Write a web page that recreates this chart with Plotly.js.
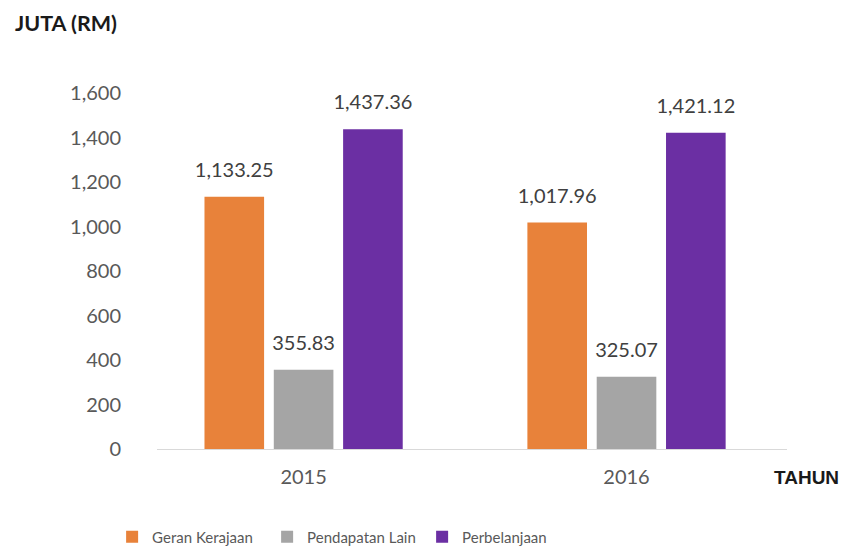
<!DOCTYPE html>
<html>
<head>
<meta charset="utf-8">
<script src="https://cdn.plot.ly/plotly-3.0.1.min.js"></script>
<style>html,body{margin:0;padding:0;background:#fff;}#chart{width:843px;height:549px;}</style>
</head>
<body>
<div id="chart"></div>
<script>
var years = ['2015', '2016'];
var seriesNames = ['Geran Kerajaan', 'Pendapatan Lain', 'Perbelanjaan'];
var geranKerajaan = [1133.25, 1017.96];
var pendapatanLain = [355.83, 325.07];
var perbelanjaan = [1437.36, 1421.12];
var yTicks = [0, 200, 400, 600, 800, 1000, 1200, 1400, 1600];
var colors = ['#E8823A', '#A5A5A5', '#6B2FA3'];

var values = [geranKerajaan, pendapatanLain, perbelanjaan];
function fmt(n) { return n.toLocaleString('en-US', {minimumFractionDigits: 2, maximumFractionDigits: 2}); }

var traces = values.map(function (v, i) {
  return {
    type: 'bar',
    name: seriesNames[i],
    x: years,
    y: v,
    marker: {color: colors[i]},
    hoverinfo: 'skip'
  };
});
var labelTraces = values.map(function (v, i) {
  return {
    type: 'scatter',
    mode: 'markers+text',
    x: years,
    y: v,
    text: v.map(fmt),
    textposition: 'top center',
    textfont: {family: 'Lato, sans-serif', size: 20, color: '#404040'},
    marker: {size: 22, opacity: 0, color: colors[i]},
    cliponaxis: false,
    showlegend: false,
    hoverinfo: 'skip'
  };
});

var layout = {
  width: 843, height: 549,
  margin: {l: 157, r: 56, t: 93, b: 100},
  paper_bgcolor: '#ffffff', plot_bgcolor: '#ffffff',
  font: {family: 'Lato, sans-serif', color: '#595959', size: 20},
  barmode: 'group',
  bargap: 0.356,
  bargroupgap: 0.14,
  scattermode: 'group',
  scattergap: 0.356,
  showlegend: true,
  legend: {orientation: 'h', xref: 'container', x: 0.133, xanchor: 'left', yref: 'container', y: 0.022, yanchor: 'middle', font: {size: 15, color: '#595959'}, entrywidth: 110, entrywidthmode: 'pixels', itemwidth: 30},
  xaxis: {
    type: 'category',
    range: [-0.454, 1.497],
    showline: true, linecolor: '#D9D9D9', linewidth: 1,
    showgrid: false, zeroline: false, ticks: '',
    ticklabelstandoff: 10,
    tickfont: {size: 20, color: '#595959'}
  },
  yaxis: {
    range: [0, 1600],
    tickvals: yTicks,
    ticktext: yTicks.map(function (t) { return t.toLocaleString('en-US'); }),
    showgrid: false, zeroline: false, showline: false, ticks: '',
    ticklabelstandoff: 35,
    tickfont: {size: 20, color: '#595959'}
  },
  annotations: [
    {text: '<b>JUTA (RM)</b>', xref: 'paper', yref: 'paper', x: -0.2286, y: 1.197, xanchor: 'left', yanchor: 'middle', showarrow: false, font: {family: 'Lato, sans-serif', size: 21.5, color: '#1a1a1a'}},
    {text: '<b>TAHUN</b>', xref: 'paper', yref: 'paper', x: 1.0857, y: -0.081, xanchor: 'right', yanchor: 'middle', showarrow: false, font: {family: 'Liberation Sans, Arial, sans-serif', size: 19, color: '#1a1a1a'}}
  ]
};

Plotly.newPlot('chart', traces.concat(labelTraces), layout, {displayModeBar: false, staticPlot: true});
</script>
</body>
</html>
